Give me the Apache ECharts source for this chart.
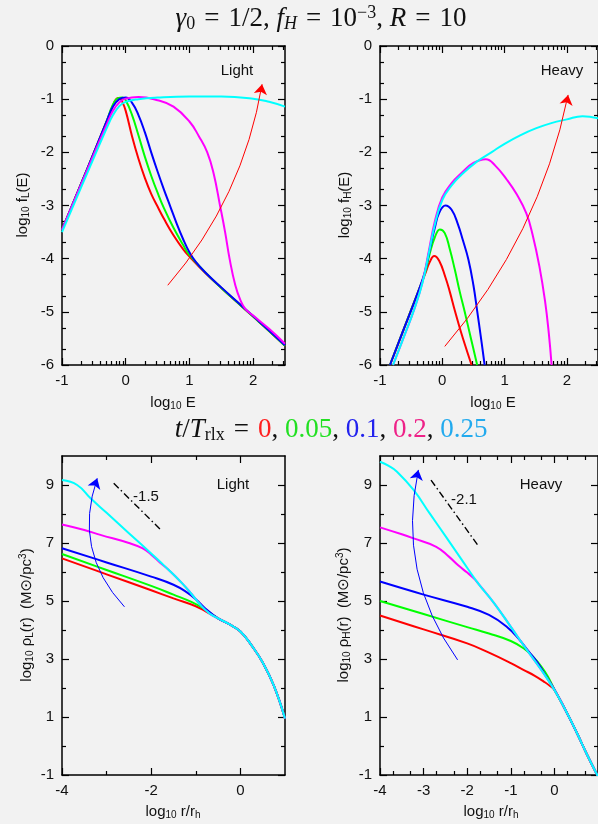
<!DOCTYPE html>
<html>
<head>
<meta charset="UTF-8">
<title>relaxation</title>
<script src="https://cdn.jsdelivr.net/npm/echarts@6/dist/echarts.min.js"></script>
<style>
  html, body { margin: 0; padding: 0; background: #f2f2f2; }
  #main { width: 598px; height: 824px; }
</style>
</head>
<body>
<div id="main"></div>
<script>
// ---- data ----
// top-left: log10 f_L(E) against log10 E
var fL_0 = [[-1,-3.46],[-0.6,-2.3],[-0.3,-1.42],[-0.2,-1.12],[-0.15,-1.0],[-0.1,-0.98],[-0.05,-1.06],[0,-1.22],[0.1,-1.7],[0.2,-2.12],[0.3,-2.48],[0.4,-2.78],[0.5,-3.02],[0.6,-3.25],[0.75,-3.56],[0.9,-3.82],[1.0,-3.96],[1.25,-4.27],[1.5,-4.55],[1.75,-4.82],[2.0,-5.09],[2.25,-5.36],[2.5,-5.64]];
var fL_005 = [[-1,-3.46],[-0.6,-2.3],[-0.3,-1.42],[-0.2,-1.1],[-0.12,-0.98],[-0.05,-0.97],[0,-1.02],[0.1,-1.3],[0.2,-1.68],[0.3,-2.08],[0.4,-2.44],[0.5,-2.76],[0.6,-3.05],[0.75,-3.42],[0.9,-3.74],[1.0,-3.93],[1.25,-4.26],[1.5,-4.55],[1.75,-4.82],[2.0,-5.09],[2.25,-5.36],[2.5,-5.64]];
var fL_01 = [[-1,-3.46],[-0.6,-2.3],[-0.3,-1.42],[-0.2,-1.14],[-0.1,-1.0],[0,-0.97],[0.1,-1.07],[0.2,-1.3],[0.3,-1.62],[0.4,-2.0],[0.5,-2.36],[0.6,-2.7],[0.7,-3.02],[0.8,-3.34],[0.9,-3.63],[1.0,-3.88],[1.1,-4.06],[1.25,-4.26],[1.5,-4.54],[1.75,-4.81],[2.0,-5.08],[2.25,-5.35],[2.5,-5.63]];
var fL_02 = [[-1,-3.46],[-0.6,-2.32],[-0.3,-1.48],[-0.2,-1.22],[-0.1,-1.06],[0,-0.99],[0.2,-0.96],[0.5,-1.02],[0.75,-1.14],[1.0,-1.42],[1.15,-1.7],[1.28,-2.0],[1.38,-2.4],[1.48,-3.0],[1.56,-3.5],[1.63,-4.0],[1.72,-4.5],[1.8,-4.78],[1.88,-4.95],[2.0,-5.07],[2.25,-5.32],[2.5,-5.6]];
var fL_025 = [[-1,-3.5],[-0.6,-2.38],[-0.3,-1.55],[-0.2,-1.3],[-0.1,-1.13],[0,-1.05],[0.2,-1.0],[0.5,-0.97],[1.0,-0.95],[1.5,-0.95],[2.0,-0.99],[2.25,-1.05],[2.5,-1.14]];

// top-right: log10 f_H(E) against log10 E
var fH_0 = [[-0.84,-6],[-0.6,-5.27],[-0.4,-4.66],[-0.28,-4.3],[-0.2,-4.06],[-0.13,-3.95],[-0.05,-4.04],[0.05,-4.35],[0.12,-4.62],[0.2,-4.97],[0.3,-5.38],[0.4,-5.75],[0.47,-6.0]];
var fH_005 = [[-0.84,-6],[-0.6,-5.27],[-0.4,-4.66],[-0.28,-4.28],[-0.2,-3.9],[-0.12,-3.6],[-0.04,-3.45],[0.04,-3.52],[0.12,-3.82],[0.2,-4.2],[0.28,-4.62],[0.36,-5.0],[0.46,-5.5],[0.56,-6.0]];
var fH_01 = [[-0.84,-6],[-0.6,-5.27],[-0.4,-4.66],[-0.28,-4.25],[-0.2,-3.82],[-0.12,-3.42],[-0.05,-3.14],[0.05,-3.0],[0.15,-3.08],[0.25,-3.35],[0.33,-3.65],[0.42,-4.02],[0.5,-4.5],[0.56,-4.98],[0.62,-5.48],[0.68,-6.0]];
var fH_02 = [[-0.79,-6],[-0.6,-5.42],[-0.45,-4.95],[-0.32,-4.45],[-0.22,-3.88],[-0.12,-3.3],[0,-2.85],[0.15,-2.58],[0.3,-2.4],[0.5,-2.2],[0.7,-2.13],[0.85,-2.25],[1.04,-2.52],[1.2,-2.8],[1.35,-3.15],[1.45,-3.55],[1.56,-4.15],[1.65,-4.8],[1.71,-5.4],[1.755,-6.0]];
var fH_025 = [[-0.79,-6],[-0.6,-5.42],[-0.45,-4.95],[-0.32,-4.46],[-0.22,-3.92],[-0.12,-3.36],[0,-2.9],[0.15,-2.62],[0.3,-2.43],[0.55,-2.18],[0.8,-1.99],[1.0,-1.84],[1.25,-1.68],[1.5,-1.55],[1.75,-1.45],[2.0,-1.38],[2.25,-1.32],[2.5,-1.36]];

// bottom-left: log10 rho_L(r) against log10 r/r_h
var rhoL_0 = [[-4,6.47],[-3,5.92],[-2,5.37],[-1.5,5.09],[-1,4.82],[-0.75,4.62],[-0.5,4.4],[-0.25,4.2],[0,3.95],[0.25,3.47],[0.5,2.88],[0.75,2.08],[1,0.95]];
var rhoL_005 = [[-4,6.62],[-3,6.07],[-2,5.52],[-1.5,5.22],[-1.1,4.97],[-0.8,4.72],[-0.5,4.4],[-0.25,4.2],[0,3.95],[0.25,3.47],[0.5,2.88],[0.75,2.08],[1,0.95]];
var rhoL_01 = [[-4,6.82],[-3,6.33],[-2,5.84],[-1.5,5.56],[-1.2,5.3],[-1,5.06],[-0.8,4.76],[-0.5,4.4],[-0.25,4.2],[0,3.95],[0.25,3.47],[0.5,2.88],[0.75,2.08],[1,0.95]];
var rhoL_02 = [[-4,7.64],[-3.5,7.45],[-3.14,7.28],[-2.5,7.0],[-2.2,6.82],[-2,6.6],[-1.8,6.32],[-1.6,6.06],[-1.3,5.6],[-1.1,5.25],[-0.9,4.87],[-0.7,4.58],[-0.5,4.4],[-0.25,4.2],[0,3.95],[0.25,3.47],[0.5,2.88],[0.75,2.08],[1,0.95]];
var rhoL_025 = [[-4,9.17],[-3.66,9.0],[-3.36,8.54],[-3,8.04],[-2.5,7.34],[-2,6.64],[-1.8,6.35],[-1.6,6.06],[-1.3,5.6],[-1.1,5.25],[-0.9,4.87],[-0.7,4.58],[-0.5,4.4],[-0.25,4.2],[0,3.95],[0.25,3.47],[0.5,2.88],[0.75,2.08],[1,0.95]];

// bottom-right: log10 rho_H(r) against log10 r/r_h
var rhoH_0 = [[-4,4.5],[-3,4.02],[-2,3.54],[-1.5,3.22],[-1,2.86],[-0.7,2.62],[-0.45,2.42],[-0.25,2.23],[-0.1,2.07],[0,1.93],[0.25,1.25],[0.5,0.5],[0.75,-0.3],[1,-1.05]];
var rhoH_005 = [[-4,5.0],[-3,4.55],[-2,4.1],[-1.5,3.88],[-1,3.62],[-0.7,3.36],[-0.48,3.06],[-0.3,2.74],[-0.15,2.4],[0,1.95],[0.25,1.25],[0.5,0.5],[0.75,-0.3],[1,-1.05]];
var rhoH_01 = [[-4,5.67],[-3,5.22],[-2,4.8],[-1.5,4.52],[-1.1,4.12],[-0.8,3.66],[-0.6,3.28],[-0.4,2.9],[-0.2,2.42],[0,1.95],[0.25,1.25],[0.5,0.5],[0.75,-0.3],[1,-1.05]];
var rhoH_02 = [[-4,7.54],[-3.5,7.3],[-3.23,7.16],[-2.71,6.87],[-2.42,6.53],[-2.2,6.22],[-2,5.98],[-1.85,5.78],[-1.75,5.61],[-1.38,4.92],[-1,4.11],[-0.63,3.31],[-0.3,2.62],[0,1.94],[0.25,1.25],[0.5,0.5],[0.75,-0.3],[1,-1.05]];
var rhoH_025 = [[-4,9.8],[-3.8,9.66],[-3.61,9.46],[-3.23,8.83],[-2.86,8.02],[-2.49,7.22],[-2.12,6.41],[-1.75,5.61],[-1.38,4.92],[-1,4.11],[-0.63,3.31],[-0.3,2.62],[0,1.93],[0.25,1.25],[0.5,0.5],[0.75,-0.3],[1,-1.05]];

// arrows (start, end) and slope guides
var arrowFL = [[0.66,-4.5],[2.14,-0.72]];
var arrowFH = [[0.04,-5.65],[2.02,-0.92]];
var arrowRL = [[-2.6,4.8],[-3.21,9.23]];
var arrowRH = [[-2.22,2.97],[-3.12,9.52]];
var slopeL = [[-2.84,9.06],[-1.77,7.43]];
var slopeH = [[-2.83,9.17],[-1.76,6.93]];

// tick labels
var eTicks = [-1, 0, 1, 2];
var fTicks = [-6, -5, -4, -3, -2, -1, 0];
var rhoTicks = [-1, 1, 3, 5, 7, 9];
var rLTicks = [-4, -2, 0];
var rHTicks = [-4, -3, -2, -1, 0];

var colors = ['#ff0000', '#00ff00', '#0000ff', '#ff00ff', '#00ffff'];

// log-style minor ticks like gnuplot draws them
function logMinor(lo, hi, ks) {
  var out = [];
  for (var n = Math.floor(lo); n < hi; n++) {
    ks.forEach(function (k) {
      var v = n + Math.log10(k);
      if (v > lo + 1e-6 && v < hi - 1e-6) out.push(v);
    });
  }
  return out;
}

var tickStyle = { color: '#000', width: 1.2 };
var labelStyle = { color: '#111', fontSize: 15, fontFamily: 'Liberation Sans', margin: 8 };

// four axes per dimension: main + minor ticks on both sides (mirror)
function frameAxes(dim, grid, min, max, major, minor, labels) {
  var sides = dim === 'x' ? ['bottom', 'top'] : ['left', 'right'];
  var list = [];
  sides.forEach(function (side, s) {
    list.push({
      type: 'value', gridIndex: grid, position: side, min: min, max: max,
      axisLine: { show: true, onZero: false, lineStyle: { color: '#000', width: 1.5 } },
      axisTick: { show: true, inside: true, length: 7, customValues: major, lineStyle: tickStyle },
      axisLabel: s === 0 ? Object.assign({ show: true, customValues: labels }, labelStyle) : { show: false },
      splitLine: { show: false }
    });
    list.push({
      type: 'value', gridIndex: grid, position: side, min: min, max: max,
      axisLine: { show: false, onZero: false },
      axisTick: { show: true, inside: true, length: 4, customValues: minor, lineStyle: tickStyle },
      axisLabel: { show: false },
      splitLine: { show: false }
    });
  });
  return list;
}

var xAxes = [].concat(
  frameAxes('x', 0, -1, 2.5, eTicks, logMinor(-1, 2.5, [2,3,4,5,6,7,8,9]), eTicks),
  frameAxes('x', 1, -1, 2.5, eTicks, logMinor(-1, 2.5, [2,3,4,5,6,7,8,9]), eTicks),
  frameAxes('x', 2, -4, 1, rLTicks, [-3, -1], rLTicks),
  frameAxes('x', 3, -4, 1, rHTicks, logMinor(-4, 1, [2, 5]), rHTicks)
);
var yAxes = [].concat(
  frameAxes('y', 0, -6, 0, fTicks, logMinor(-6, 0, [2, 5]), fTicks),
  frameAxes('y', 1, -6, 0, fTicks, logMinor(-6, 0, [2, 5]), fTicks),
  frameAxes('y', 2, -1, 10, rhoTicks, [0, 2, 4, 6, 8], rhoTicks),
  frameAxes('y', 3, -1, 10, rhoTicks, [0, 2, 4, 6, 8], rhoTicks)
);

function curve(data, k, g) {
  return {
    type: 'line', xAxisIndex: 4 * g, yAxisIndex: 4 * g, data: data,
    showSymbol: false, smooth: 0.45, clip: true, z: 3 + k,
    lineStyle: { color: colors[k], width: 2 }
  };
}
function arrow(coords, color, curveness, g) {
  return {
    type: 'lines', coordinateSystem: 'cartesian2d', xAxisIndex: 4 * g, yAxisIndex: 4 * g,
    symbol: ['none', 'arrow'], symbolSize: 10, z: 9,
    lineStyle: { color: color, width: 1, curveness: curveness, opacity: 1 },
    data: [{ coords: coords }]
  };
}
function guide(data, g) {
  return {
    type: 'line', xAxisIndex: 4 * g, yAxisIndex: 4 * g, data: data, showSymbol: false,
    lineStyle: { color: '#000', width: 1.4, type: [7, 3, 1.5, 3] }
  };
}

var series = [];
[fL_0, fL_005, fL_01, fL_02, fL_025].forEach(function (d, k) { series.push(curve(d, k, 0)); });
[fH_0, fH_005, fH_01, fH_02, fH_025].forEach(function (d, k) { series.push(curve(d, k, 1)); });
[rhoL_0, rhoL_005, rhoL_01, rhoL_02, rhoL_025].forEach(function (d, k) { series.push(curve(d, k, 2)); });
[rhoH_0, rhoH_005, rhoH_01, rhoH_02, rhoH_025].forEach(function (d, k) { series.push(curve(d, k, 3)); });
series.push(arrow(arrowFL, '#ff0000', -0.14, 0));
series.push(arrow(arrowFH, '#ff0000', -0.13, 1));
series.push(arrow(arrowRL, '#0000ff', 0.3, 2));
series.push(arrow(arrowRH, '#0000ff', 0.22, 3));
series.push(guide(slopeL, 2));
series.push(guide(slopeH, 3));

var serif = 'Liberation Serif';
var sans = 'Liberation Sans';
var nameRich = {
  n: { fontSize: 15, fontFamily: sans, fill: '#111' },
  s: { fontSize: 10, fontFamily: sans, fill: '#111', padding: [7, 0, 0, 0] },
  p: { fontSize: 10, fontFamily: sans, fill: '#111', padding: [0, 0, 8, 0] },
  o: { fontSize: 15, fontFamily: 'DejaVu Sans', fill: '#111' }
};
function label(x, y, text, rot) {
  return {
    type: 'text', x: x, y: y, rotation: rot || 0, z: 20,
    style: { text: text, rich: nameRich, align: 'center', verticalAlign: 'middle' }
  };
}
var titleRich = {
  r: { fontSize: 27, fontFamily: serif, fill: '#111' },
  i: { fontSize: 27, fontFamily: serif, fontStyle: 'italic', fill: '#111' },
  sb: { fontSize: 18, fontFamily: serif, fill: '#111', padding: [10, 0, 0, 0] },
  sbi: { fontSize: 18, fontFamily: serif, fontStyle: 'italic', fill: '#111', padding: [10, 0, 0, 0] },
  sp: { fontSize: 18, fontFamily: serif, fill: '#111', padding: [0, 0, 12, 0] },
  c0: { fontSize: 27, fontFamily: serif, fill: '#ff2020' },
  c1: { fontSize: 27, fontFamily: serif, fill: '#22e022' },
  c2: { fontSize: 27, fontFamily: serif, fill: '#2222ee' },
  c3: { fontSize: 27, fontFamily: serif, fill: '#ee2288' },
  c4: { fontSize: 27, fontFamily: serif, fill: '#22aaee' }
};
var eq = '{r|\u2004=\u2004}';

var graphics = [
  { type: 'text', x: 321, y: 19, z: 20, style: { align: 'center', verticalAlign: 'middle', rich: titleRich,
    text: '{i|γ}{sb|0}' + eq + '{r|1/2, }{i|f}{sbi|H}' + eq + '{r|10}{sp|−3}{r|, }{i|R}' + eq + '{r|10}' } },
  { type: 'text', x: 331, y: 430, z: 20, style: { align: 'center', verticalAlign: 'middle', rich: titleRich,
    text: '{i|t}{r|/}{i|T}{sb|rlx}' + eq + '{c0|0}{r|, }{c1|0.05}{r|, }{c2|0.1}{r|, }{c3|0.2}{r|, }{c4|0.25}' } },
  label(237, 71, '{n|Light}'),
  label(562, 71, '{n|Heavy}'),
  label(233, 485, '{n|Light}'),
  label(541, 485, '{n|Heavy}'),
  label(146, 497, '{n|-1.5}'),
  label(464, 500, '{n|-2.1}'),
  label(23, 205, '{n|log}{s|10}{n| f}{s|L}{n|(E)}', Math.PI / 2),
  label(173, 403, '{n|log}{s|10}{n| E}'),
  label(345, 205, '{n|log}{s|10}{n| f}{s|H}{n|(E)}', Math.PI / 2),
  label(493, 403, '{n|log}{s|10}{n| E}'),
  label(27, 615, '{n|log}{s|10}{n| ρ}{s|L}{n|(r)  (M}{o|⊙}{n|/pc}{p|3}{n|)}', Math.PI / 2),
  label(173, 812, '{n|log}{s|10}{n| r/r}{s|h}'),
  label(344, 615, '{n|log}{s|10}{n| ρ}{s|H}{n|(r)  (M}{o|⊙}{n|/pc}{p|3}{n|)}', Math.PI / 2),
  label(491, 812, '{n|log}{s|10}{n| r/r}{s|h}')
];

var app = echarts.init(document.getElementById('main'));
app.setOption({
  backgroundColor: '#f2f2f2',
  animation: false,
  grid: [
    { left: 62, top: 46, width: 223, height: 319 },
    { left: 380, top: 46, width: 224, height: 319 },
    { left: 62, top: 456, width: 223, height: 319 },
    { left: 380, top: 456, width: 224, height: 319 }
  ],
  xAxis: xAxes,
  yAxis: yAxes,
  series: series,
  graphic: graphics
});
</script>
</body>
</html>
